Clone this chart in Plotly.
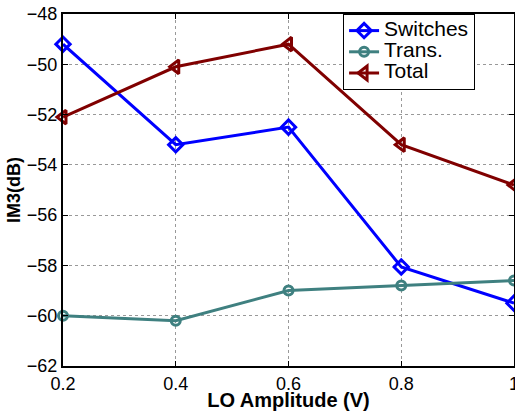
import plotly.graph_objects as go

lo_amplitude = [0.2, 0.4, 0.6, 0.8, 1.0]
switches = [-49.2, -53.2, -52.5, -58.06, -59.5]
trans = [-60.0, -60.2, -59.0, -58.8, -58.6]
total = [-52.1, -50.1, -49.2, -53.2, -54.8]

series_names = ["Switches", "Trans.", "Total"]

x_ticks = [0.2, 0.4, 0.6, 0.8, 1.0]
x_ticklabels = ["0.2", "0.4", "0.6", "0.8", "1"]
y_ticks = [-62, -60, -58, -56, -54, -52, -50, -48]
y_ticklabels = ["\u221262", "\u221260", "\u221258", "\u221256", "\u221254", "\u221252", "\u221250", "\u221248"]

font_family = "Liberation Sans, Arial, Helvetica, sans-serif"

fig = go.Figure()
styles = [
    ("#0000FF", "diamond-open", 11),
    ("#3F8080", "circle-open", 9),
    ("#800000", "triangle-left-open", 12),
]
for name, ys, (color, symbol, size) in zip(series_names, [switches, trans, total], styles):
    fig.add_trace(go.Scatter(
        x=lo_amplitude, y=ys,
        name='<span style="font-size:21px">' + name + '</span>',
        mode="lines+markers",
        line=dict(color=color, width=3),
        marker=dict(symbol=symbol, size=size, color=color, line=dict(color=color, width=3)),
        cliponaxis=False,
    ))

fig.update_layout(
    width=515, height=411,
    margin=dict(l=63, r=1, t=14, b=45, autoexpand=False),
    paper_bgcolor="white", plot_bgcolor="white",
    font=dict(family=font_family, size=18, color="black"),
    showlegend=True,
    legend=dict(
        x=0.621, y=1.0, xanchor="left", yanchor="top",
        bgcolor="white", bordercolor="black", borderwidth=1,
        font=dict(size=14), itemwidth=30, tracegroupgap=0,
    ),
    xaxis=dict(
        range=[0.2, 1.0], tickvals=x_ticks, ticktext=x_ticklabels,
        showgrid=True, gridcolor="#999999", griddash="dot", gridwidth=1,
        showline=True, linecolor="black", linewidth=2, mirror="ticks",
        ticks="inside", ticklen=5, tickcolor="black", zeroline=False,
        automargin=False, ticklabeloverflow="allow",
        title=dict(text="<b>LO Amplitude (V)</b>", font=dict(size=20), standoff=3),
    ),
    yaxis=dict(
        range=[-62, -48], tickvals=y_ticks, ticktext=y_ticklabels,
        showgrid=True, gridcolor="#999999", griddash="dot", gridwidth=1,
        showline=True, linecolor="black", linewidth=2, mirror="ticks",
        ticks="inside", ticklen=5, tickcolor="black", zeroline=False,
        automargin=False, ticklabeloverflow="allow",
        title=dict(text="<b>IM3(dB)</b>", font=dict(size=18), standoff=2),
    ),
)

fig.write_html(
    "out.html",
    config={"displayModeBar": False},
    post_script="document.body.style.margin='0';document.body.style.overflow='hidden';",
)
